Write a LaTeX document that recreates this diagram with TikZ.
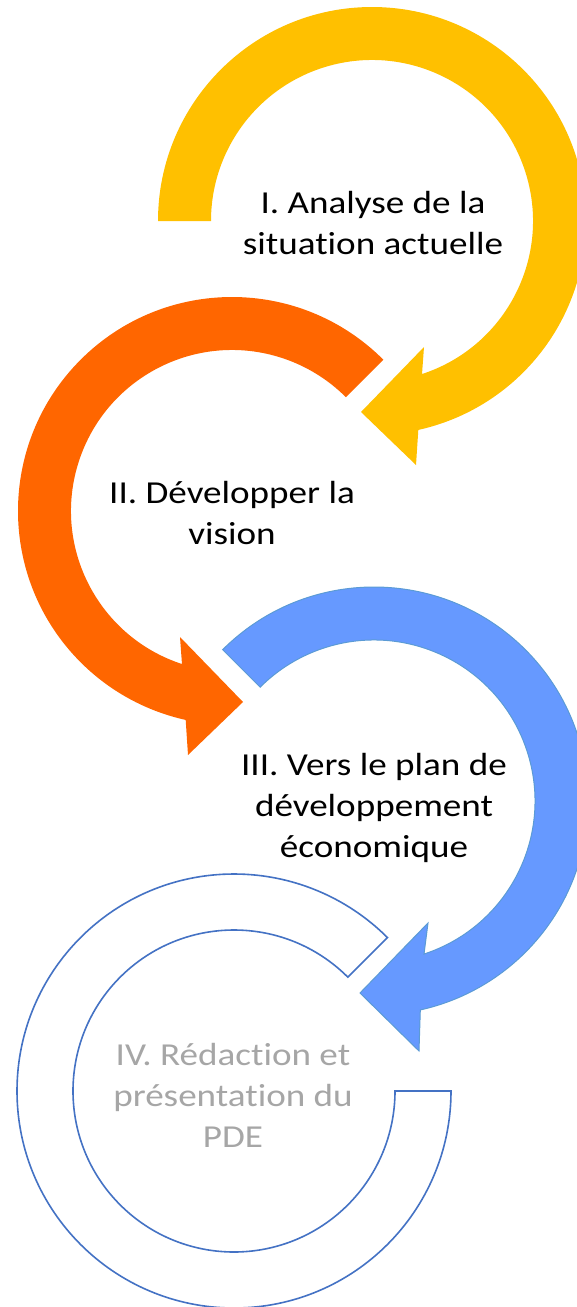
\documentclass[tikz,border=0pt]{standalone}
\usepackage{fontspec}
\setmainfont{Carlito}[FakeStretch=1.16, Ligatures=NoCommon]
\definecolor{yel}{HTML}{FFC000}
\definecolor{ora}{HTML}{FF6600}
\definecolor{blu}{HTML}{6699FF}
\definecolor{bluedge}{HTML}{5B9BD5}
\definecolor{ringc}{HTML}{4472C4}
\definecolor{graytxt}{HTML}{A6A6A6}
\tikzset{
  lbl/.style={align=center, inner sep=0pt, font=\fontsize{32}{41}\selectfont},
  yelarrow/.style={fill=yel},
  oraarrow/.style={fill=ora},
  bluarrow/.style={fill=blu, draw=bluedge, line width=1pt},
  ringarc/.style={draw=ringc, line width=1.6pt, fill=white},
}
\begin{document}
\begin{tikzpicture}[x=1pt,y=1pt]
\useasboundingbox (0,0) rectangle (577,-1307);
% I - yellow
\begin{scope}[shift={(372,-221)}]
\fill[yelarrow] (180:214) arc[start angle=180,end angle=-77.5,radius=214]
  -- (44,-244) -- (-11,-191) -- (52,-126) -- (-71.9:161)
  arc[start angle=-71.9,end angle=180,radius=161] -- cycle;
\end{scope}
% II - orange
\begin{scope}[shift={(232,-511)}]
\fill[oraarrow] (45:214) arc[start angle=45,end angle=257.5,radius=214]
  -- (-44,-244) -- (11,-191) -- (-52,-126) -- (251.9:161)
  arc[start angle=251.9,end angle=45,radius=161] -- cycle;
\end{scope}
% III - blue
\begin{scope}[shift={(374,-801)}]
\filldraw[bluarrow] (135:214) arc[start angle=135,end angle=-77.5,radius=214]
  -- (45,-250) -- (-14,-192) -- (54,-122) -- (-71.9:161)
  arc[start angle=-71.9,end angle=135,radius=161] -- cycle;
\end{scope}
% IV - outlined ring
\begin{scope}[shift={(234,-1091)}]
\draw[ringarc] (0:161) -- (0:217) arc[start angle=360,end angle=45,radius=217]
  -- (45:161) arc[start angle=45,end angle=360,radius=161] -- cycle;
\end{scope}
% labels
\node[lbl] (t1) at (373,-225.8) {\strut I. Analyse de la\\\strut situation actuelle};
\node[lbl] (t2) at (232,-515.8) {\strut II. Développer la\\\strut vision};
\node[lbl] (t3) at (374,-807.8) {\strut III. Vers le plan de\\\strut développement\\\strut économique};
\node[lbl, text=graytxt] (t4) at (233,-1097.8) {\strut IV. Rédaction et\\\strut présentation du\\\strut PDE};
\end{tikzpicture}
\end{document}
